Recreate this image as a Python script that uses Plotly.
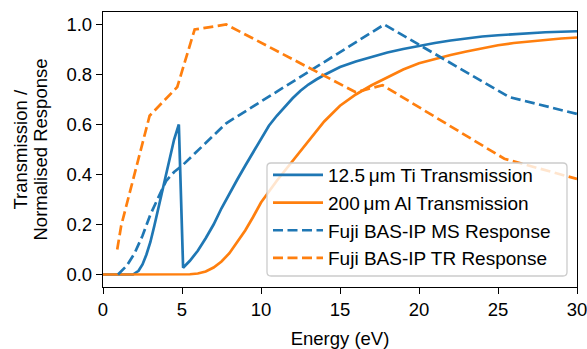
import plotly.graph_objects as go

# ---- data ----
ti_x = [0, 1.9, 2.25, 2.5, 2.75, 3.0, 3.25, 3.5, 3.75, 4.0, 4.25, 4.5, 4.8, 5.07, 5.5, 6, 6.5, 7, 7.5,
        8, 8.5, 9, 9.5, 10, 10.5, 11, 11.5, 12, 12.5, 13, 13.5, 14, 15, 16, 17, 18, 19, 20, 21, 22,
        23, 24, 25, 26, 27, 28, 29, 30]
ti_y = [0, 0, 0.015, 0.04, 0.08, 0.13, 0.195, 0.265, 0.335, 0.405, 0.475, 0.54, 0.6, 0.027, 0.055,
        0.095, 0.145, 0.2, 0.265, 0.325, 0.38, 0.435, 0.49, 0.545, 0.595, 0.635, 0.67, 0.705, 0.735,
        0.76, 0.78, 0.798, 0.83, 0.852, 0.87, 0.888, 0.902, 0.915, 0.926, 0.936, 0.945, 0.952, 0.957,
        0.962, 0.966, 0.969, 0.971, 0.973]

al_x = [0, 5, 5.5, 6, 6.5, 7, 7.5, 8, 8.5, 9, 9.5, 10, 11, 12, 13, 14, 15, 16, 17, 18, 19, 20, 21,
        22, 23, 24, 25, 26, 27, 28, 29, 30]
al_y = [0, 0, 0.001, 0.004, 0.012, 0.028, 0.052, 0.085, 0.128, 0.176, 0.23, 0.288, 0.375, 0.455,
        0.535, 0.612, 0.675, 0.72, 0.757, 0.79, 0.82, 0.845, 0.862, 0.878, 0.892, 0.905, 0.917,
        0.926, 0.933, 0.939, 0.944, 0.948]

ms_x = [0.95, 1.5, 2.0, 2.5, 3.0, 3.5, 4.0, 4.5, 5.0, 7.8, 17.8, 25.7, 30]
ms_y = [0, 0.035, 0.085, 0.155, 0.24, 0.31, 0.375, 0.41, 0.435, 0.605, 1.0, 0.71, 0.642]

tr_x = [0.9, 1.15, 2.95, 4.7, 5.8, 7.8, 16.0, 17.7, 25.4, 30]
tr_y = [0.1, 0.195, 0.635, 0.75, 0.98, 1.0, 0.729, 0.757, 0.463, 0.382]

names = ["12.5\u2009\u03bcm Ti Transmission", "200\u2009\u03bcm Al Transmission",
         "Fuji BAS-IP MS Response", "Fuji BAS-IP TR Response"]
x_ticks = [0, 5, 10, 15, 20, 25, 30]
y_ticks = [0.0, 0.2, 0.4, 0.6, 0.8, 1.0]
y_title_lines = ["Transmission /", "Normalised Response"]
x_title = "Energy (eV)"

BLUE = "#1f77b4"
ORANGE = "#ff7f0e"
FONT = "Liberation Sans"
FS = 18.5
DASH = "10px,4.5px"
LW = 2.7

W, H = 587, 349
ML, MR, MT, MB = 103, 10, 12, 62
PW = W - ML - MR
PH = H - MT - MB


def px_x(px):
    return (px - ML) / PW


def px_y(py):
    return (H - MB - py) / PH


fig = go.Figure()
fig.add_trace(go.Scatter(x=ti_x, y=ti_y, mode="lines", name=names[0],
                         line=dict(color=BLUE, width=LW)))
fig.add_trace(go.Scatter(x=al_x, y=al_y, mode="lines", name=names[1],
                         line=dict(color=ORANGE, width=LW)))
fig.add_trace(go.Scatter(x=ms_x, y=ms_y, mode="lines", name=names[2],
                         line=dict(color=BLUE, width=LW, dash=DASH)))
fig.add_trace(go.Scatter(x=tr_x, y=tr_y, mode="lines", name=names[3],
                         line=dict(color=ORANGE, width=LW, dash=DASH)))

axis_common = dict(showline=True, linecolor="black", linewidth=1.3, mirror=True,
                   ticks="outside", ticklen=6, tickwidth=1.3, tickcolor="black",
                   showgrid=False, zeroline=False, automargin=False,
                   ticklabeloverflow="allow",
                   tickfont=dict(family=FONT, size=FS, color="black"))

# y-axis title as two rotated lines (tight line spacing as in the reference)
for txt, px in zip(y_title_lines, [20, 40]):
    fig.add_annotation(text=txt, textangle=-90, xref="paper", yref="paper",
                       x=px_x(px), y=0.5, xanchor="center", yanchor="middle",
                       showarrow=False, font=dict(family=FONT, size=FS, color="black"))

# legend frame: rounded, semi-transparent box like the reference
x0, x1 = px_x(267), px_x(567)
y0, y1 = px_y(276), px_y(163)
rx, ry = 4 / PW, 4 / PH
path = (f"M {x0+rx},{y0} L {x1-rx},{y0} Q {x1},{y0} {x1},{y0+ry} "
        f"L {x1},{y1-ry} Q {x1},{y1} {x1-rx},{y1} L {x0+rx},{y1} Q {x0},{y1} {x0},{y1-ry} "
        f"L {x0},{y0+ry} Q {x0},{y0} {x0+rx},{y0} Z")
fig.add_shape(type="path", path=path, xref="paper", yref="paper", layer="above",
              fillcolor="rgba(255,255,255,0.8)", line=dict(color="#cccccc", width=1.3))

fig.update_layout(
    width=W, height=H,
    margin=dict(l=ML, r=MR, t=MT, b=MB),
    paper_bgcolor="white", plot_bgcolor="white",
    font=dict(family=FONT, color="black"),
    xaxis=dict(range=[0, 30], tickvals=x_ticks, ticktext=[str(v) for v in x_ticks],
               title=dict(text=x_title, font=dict(family=FONT, size=FS), standoff=12),
               **axis_common),
    yaxis=dict(range=[-0.05, 1.05], tickvals=y_ticks, ticktext=[f"{v:.1f}" for v in y_ticks],
               **axis_common),
    legend=dict(x=px_x(268), y=px_y(156), xanchor="left", yanchor="top",
                bgcolor="rgba(0,0,0,0)", borderwidth=0,
                font=dict(family=FONT, size=19, color="black"),
                itemwidth=50, tracegroupgap=0),
    showlegend=True,
)

fig.write_html("out.html", config={"displayModeBar": False},
               post_script="document.body.style.margin='0';document.body.style.padding='0';"
                           "document.documentElement.style.overflow='hidden';")
